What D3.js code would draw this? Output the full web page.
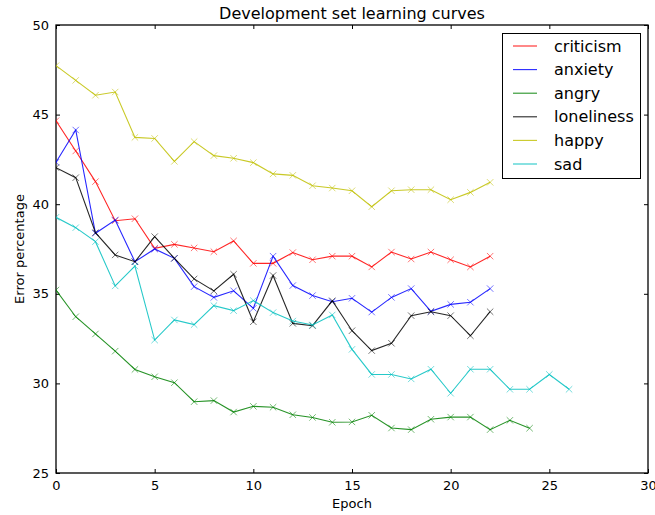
<!DOCTYPE html>
<html><head><meta charset="utf-8">
<script src="https://cdn.jsdelivr.net/npm/d3@7"></script>
<style>body{margin:0;background:#fff}text{font-family:"DejaVu Sans",sans-serif}</style>
</head><body><svg id="c" width="655" height="515"></svg>
<script>
const seriesNames = ["criticism","anxiety","angry","loneliness","happy","sad"];
const seriesColors = ["#ff0000","#0000ff","#008000","#000000","#bfbf00","#00bfbf"];
const criticism = [44.66,42.97,41.26,39.08,39.19,37.54,37.76,37.56,37.35,37.95,36.7,36.7,37.3,36.9,37.1,37.1,36.5,37.33,36.94,37.33,36.9,36.5,37.1];
const anxiety = [42.34,44.14,38.38,39.12,36.79,37.5,36.98,35.4,34.8,35.17,34.19,37.1,35.46,34.9,34.56,34.75,33.98,34.8,35.29,34.02,34.41,34.53,35.29];
const angry = [35.21,33.72,32.76,31.8,30.78,30.37,30.04,28.98,29.04,28.4,28.72,28.67,28.25,28.1,27.83,27.85,28.22,27.51,27.42,28.0,28.12,28.12,27.42,27.94,27.5];
const loneliness = [42.04,41.48,38.41,37.17,36.79,38.19,36.98,35.83,35.16,36.09,33.44,36.02,33.35,33.22,34.61,32.94,31.83,32.24,33.78,34.0,33.78,32.66,34.0];
const happy = [47.73,46.91,46.08,46.26,43.73,43.67,42.39,43.49,42.71,42.56,42.32,41.69,41.61,41.03,40.9,40.75,39.86,40.75,40.81,40.81,40.25,40.66,41.22];
const sad = [39.27,38.69,37.91,35.44,36.55,32.42,33.54,33.28,34.34,34.06,34.62,33.95,33.48,33.26,33.82,31.9,30.5,30.5,30.25,30.79,29.45,30.79,30.79,29.67,29.67,30.5,29.67];
const seriesValues = [criticism, anxiety, angry, loneliness, happy, sad];
const xTicks = [0,5,10,15,20,25,30];
const yTicks = [25,30,35,40,45,50];

const L=56,R=648,T=25,B=473;
const svg=d3.select("#c");
const x=d3.scaleLinear().domain([0,30]).range([L,R]);
const y=d3.scaleLinear().domain([25,50]).range([B,T]);

const gB=svg.append("g").attr("transform",`translate(0,${B})`).call(d3.axisBottom(x).tickValues(xTicks).tickSizeInner(-4).tickSizeOuter(0).tickPadding(8));
const gT=svg.append("g").attr("transform",`translate(0,${T})`).call(d3.axisTop(x).tickValues(xTicks).tickSizeInner(-4).tickSizeOuter(0).tickFormat(""));
const gL=svg.append("g").attr("transform",`translate(${L},0)`).call(d3.axisLeft(y).tickValues(yTicks).tickSizeInner(-4).tickSizeOuter(0).tickPadding(7));
const gR=svg.append("g").attr("transform",`translate(${R},0)`).call(d3.axisRight(y).tickValues(yTicks).tickSizeInner(-4).tickSizeOuter(0).tickFormat(""));
[gB,gT,gL,gR].forEach(g=>{g.select(".domain").remove();g.selectAll("line").attr("stroke","#000");g.selectAll("text").attr("font-size",13).attr("fill","#000").attr("font-family","DejaVu Sans");});

svg.append("rect").attr("x",L).attr("y",T).attr("width",R-L).attr("height",B-T).attr("fill","none").attr("stroke","#000").attr("stroke-width",1.3);

svg.append("defs").append("clipPath").attr("id","pc").append("rect").attr("x",L).attr("y",T).attr("width",R-L).attr("height",B-T);
const plot=svg.append("g").attr("clip-path","url(#pc)");
const line=d3.line().x((d,i)=>x(i)).y(d=>y(d));
seriesValues.forEach((vals,k)=>{
  const c=seriesColors[k];
  plot.append("path").datum(vals).attr("d",line).attr("fill","none").attr("stroke",c).attr("stroke-width",1.1).attr("stroke-opacity",0.85);
  const s=3.2;
  plot.selectAll(null).data(vals).enter().append("path")
    .attr("d",(d,i)=>{const cx=x(i),cy=y(d);return `M${cx-s},${cy-s}L${cx+s},${cy+s}M${cx-s},${cy+s}L${cx+s},${cy-s}`;})
    .attr("stroke",c).attr("stroke-width",1).attr("stroke-opacity",0.55).attr("fill","none");
});

svg.append("text").attr("x",(L+R)/2).attr("y",19).attr("text-anchor","middle").attr("font-size",16).text("Development set learning curves");
svg.append("text").attr("x",(L+R)/2).attr("y",508).attr("text-anchor","middle").attr("font-size",13).text("Epoch");
svg.append("text").attr("transform",`translate(24,${(T+B)/2}) rotate(-90)`).attr("text-anchor","middle").attr("font-size",13).text("Error percentage");

const lg=svg.append("g");
lg.append("rect").attr("x",502.5).attr("y",33.5).attr("width",138).attr("height",145).attr("fill","#fff").attr("stroke","#000").attr("stroke-width",1);
seriesNames.forEach((n,k)=>{
  const yy=46+k*23.6;
  lg.append("line").attr("x1",513).attr("x2",537).attr("y1",yy).attr("y2",yy).attr("stroke",seriesColors[k]).attr("stroke-width",1.1).attr("stroke-opacity",0.85);
  lg.append("text").attr("x",554).attr("y",yy).attr("dy","0.35em").attr("font-size",16).text(n);
});
</script></body></html>
